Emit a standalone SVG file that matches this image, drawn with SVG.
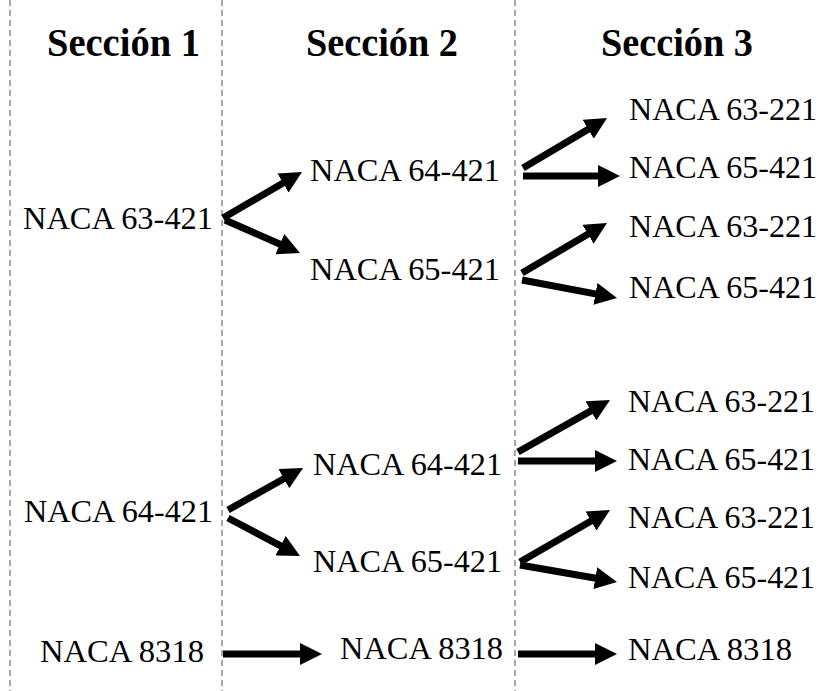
<svg xmlns="http://www.w3.org/2000/svg" width="822" height="691" viewBox="0 0 822 691">
<style>
.hd{font-family:"Liberation Serif","Times New Roman",serif;font-weight:bold;font-size:40px;fill:#000}
.nd{font-family:"Liberation Serif","Times New Roman",serif;font-size:32px;fill:#000}
.sep{stroke:#8a8a8a;stroke-width:1.5;stroke-dasharray:6 4;fill:none}
.ar{stroke:#000;stroke-width:7;fill:none;marker-end:url(#ah)}
</style>
<defs>
<marker id="ah" viewBox="0 0 10 10" markerWidth="22" markerHeight="22" markerUnits="userSpaceOnUse" refX="3" refY="5" orient="auto">
<path d="M0,0 L10,5 L0,10 z" fill="#000"/>
</marker>
</defs>
<rect width="822" height="691" fill="#fff"/>
<g id="separators">
<line class="sep" x1="10" y1="0" x2="10" y2="691"/>
<line class="sep" x1="222" y1="0" x2="222" y2="691"/>
<line class="sep" x1="515" y1="0" x2="515" y2="691"/>
</g>
<g id="headers">
<text class="hd" x="47" y="56" textLength="153" lengthAdjust="spacingAndGlyphs">Sección 1</text>
<text class="hd" x="306" y="56" textLength="152" lengthAdjust="spacingAndGlyphs">Sección 2</text>
<text class="hd" x="601" y="56" textLength="152" lengthAdjust="spacingAndGlyphs">Sección 3</text>
</g>
<g id="connectors">
<line class="ar" x1="223" y1="218" x2="288.7" y2="179.7"/>
<line class="ar" x1="225" y1="220" x2="285.9" y2="246.8"/>
<line class="ar" x1="523" y1="168" x2="593.8" y2="125.9"/>
<line class="ar" x1="523" y1="176" x2="604.6" y2="176"/>
<line class="ar" x1="522" y1="273" x2="593.7" y2="230.8"/>
<line class="ar" x1="522" y1="280" x2="601.9" y2="295.1"/>
<line class="ar" x1="228" y1="510" x2="289.6" y2="475.5"/>
<line class="ar" x1="228" y1="518" x2="286.4" y2="548.8"/>
<line class="ar" x1="223" y1="654" x2="306.6" y2="654"/>
<line class="ar" x1="518" y1="452" x2="596.6" y2="407.6"/>
<line class="ar" x1="518" y1="461" x2="601.6" y2="461"/>
<line class="ar" x1="520" y1="562" x2="596.7" y2="517.7"/>
<line class="ar" x1="520" y1="565" x2="601.8" y2="579.3"/>
<line class="ar" x1="518" y1="654" x2="601.6" y2="654"/>
</g>
<g id="s1-a"><text class="nd" x="23" y="229" textLength="190" lengthAdjust="spacingAndGlyphs">NACA 63-421</text></g>
<g id="s1-b"><text class="nd" x="24" y="522" textLength="189" lengthAdjust="spacingAndGlyphs">NACA 64-421</text></g>
<g id="s1-c"><text class="nd" x="40" y="662" textLength="164" lengthAdjust="spacingAndGlyphs">NACA 8318</text></g>
<g id="s2-a"><text class="nd" x="310" y="181" textLength="190" lengthAdjust="spacingAndGlyphs">NACA 64-421</text></g>
<g id="s2-b"><text class="nd" x="310" y="280" textLength="190" lengthAdjust="spacingAndGlyphs">NACA 65-421</text></g>
<g id="s2-c"><text class="nd" x="313" y="475" textLength="189" lengthAdjust="spacingAndGlyphs">NACA 64-421</text></g>
<g id="s2-d"><text class="nd" x="313" y="572" textLength="189" lengthAdjust="spacingAndGlyphs">NACA 65-421</text></g>
<g id="s2-e"><text class="nd" x="340" y="659" textLength="163" lengthAdjust="spacingAndGlyphs">NACA 8318</text></g>
<g id="s3-a"><text class="nd" x="629" y="120" textLength="188" lengthAdjust="spacingAndGlyphs">NACA 63-221</text></g>
<g id="s3-b"><text class="nd" x="629" y="178" textLength="188" lengthAdjust="spacingAndGlyphs">NACA 65-421</text></g>
<g id="s3-c"><text class="nd" x="629" y="237" textLength="188" lengthAdjust="spacingAndGlyphs">NACA 63-221</text></g>
<g id="s3-d"><text class="nd" x="629" y="298" textLength="188" lengthAdjust="spacingAndGlyphs">NACA 65-421</text></g>
<g id="s3-e"><text class="nd" x="628" y="412" textLength="187" lengthAdjust="spacingAndGlyphs">NACA 63-221</text></g>
<g id="s3-f"><text class="nd" x="628" y="470" textLength="187" lengthAdjust="spacingAndGlyphs">NACA 65-421</text></g>
<g id="s3-g"><text class="nd" x="628" y="528" textLength="187" lengthAdjust="spacingAndGlyphs">NACA 63-221</text></g>
<g id="s3-h"><text class="nd" x="628" y="588" textLength="187" lengthAdjust="spacingAndGlyphs">NACA 65-421</text></g>
<g id="s3-i"><text class="nd" x="628" y="660" textLength="164" lengthAdjust="spacingAndGlyphs">NACA 8318</text></g>
</svg>
